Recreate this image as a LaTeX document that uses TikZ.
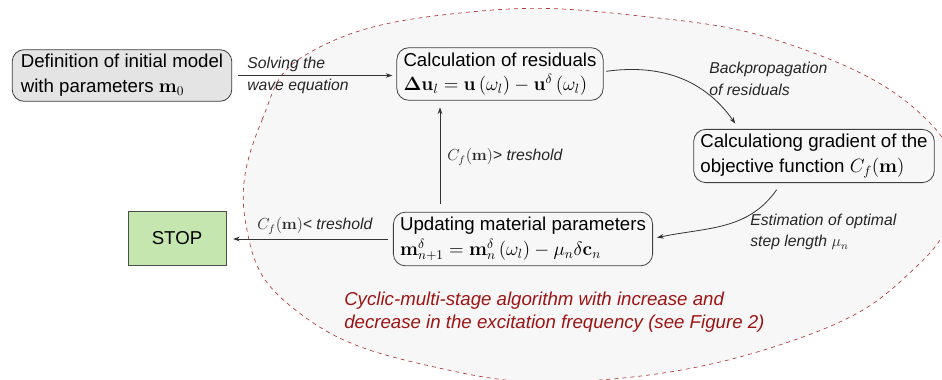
\documentclass[tikz,border=0pt]{standalone}
\usepackage{amsmath}
\usepackage[no-math]{fontspec}
\setmainfont{Liberation Sans}
\usetikzlibrary{arrows.meta}
\definecolor{blobedge}{HTML}{B23A3A}
\definecolor{blobfill}{HTML}{F7F7F7}
\definecolor{initfill}{HTML}{E4E4E4}
\definecolor{stopfill}{HTML}{C6E6B0}
\definecolor{noteclr}{HTML}{9E1414}
\begin{document}
\begin{tikzpicture}[x=0.75pt,y=-0.75pt,
  box/.style={draw=black!75, line width=0.6pt, rounded corners=9pt, align=left,
    inner xsep=5pt, inner ysep=3.6pt, font=\fontsize{14}{18.5}\selectfont},
  lab/.style={font=\itshape\fontsize{11.8}{16}\selectfont, align=left, text=black!85, inner sep=0pt, anchor=west},
  conn/.style={draw=black!80, line width=0.6pt, -{Stealth[length=5pt,width=3.5pt]}}]
\useasboundingbox (0,0) rectangle (942,379);

% the cyclic stage region
\begin{scope}
  \clip (0,0) rectangle (942,379);
  \draw[draw=blobedge, dashed, fill=blobfill, line width=0.5pt]
    plot[smooth cycle, tension=0.75] coordinates {
      (246,225) (262,120) (318,48) (470,12) (640,16) (800,48)
      (925,118) (952,195) (915,268) (800,338) (600,380) (430,366) (298,312)};
\end{scope}

% process steps
\node[box, fill=initfill, inner xsep=6.5pt] (init) at (122,75.5)
  {Definition of initial model\\with parameters $\mathbf{m}_0$};
\node[box] (resid) at (500,74)
  {Calculation of residuals\\$\mathbf{\Delta u}_l=\mathbf{u}\left(\omega_l\right)-\mathbf{u}^{\delta}\left(\omega_l\right)$};
\node[box] (grad) at (814,156)
  {Calculationg gradient of the\\objective function $C_f(\mathbf{m})$};
\node[box] (upd) at (523,239)
  {Updating material parameters\\$\mathbf{m}^{\delta}_{n+1}=\mathbf{m}^{\delta}_{n}\left(\omega_l\right)-\mu_n\delta\mathbf{c}_n$};
\node[draw=black!70, line width=0.6pt, fill=stopfill, minimum width=73.5pt, minimum height=40pt,
  font=\fontsize{14}{17}\selectfont] (stop) at (177,238.5) {STOP};

% connectors
\coordinate (vx) at (440,0);
\draw[conn] ([xshift=4pt]init.east) -- ([xshift=-3pt]init.east -| resid.west);
\draw[conn] ([xshift=2pt,yshift=2pt]resid.east) to[out=8, in=125] ([xshift=31.5pt,yshift=4pt]grad.north west);
\draw[conn] ([xshift=-28pt,yshift=-5pt]grad.south) to[out=-125, in=12] ([xshift=3pt,yshift=1pt]upd.east);
\draw[conn] ([yshift=6pt]upd.north -| vx) -- ([yshift=-5pt]resid.south -| vx);
\draw[conn] ([xshift=-4pt]upd.west) -- ([xshift=5pt]upd.west -| stop.east);

% connector labels
\node[lab] (l1a) at (247,64) {Solving the};
\node[lab] (l1b) at (247,86) {wave equation};
\node[lab] (l2) at (709,79) {Backpropagation\\of residuals};
\node[lab] (l3) at (750,232) {Estimation of optimal\\step length $\mu_n$};
\node[lab] (l4) at (447,157) {$C_f(\mathbf{m})$> treshold};
\node[lab] (l5) at (257,226) {$C_f(\mathbf{m})$< treshold};

% note on the region
\node[lab, text=noteclr, font=\itshape\fontsize{14}{17.3}\selectfont] (note) at (344,312)
  {Cyclic-multi-stage algorithm with increase and\\decrease in the excitation frequency (see Figure 2)};
\end{tikzpicture}
\end{document}
